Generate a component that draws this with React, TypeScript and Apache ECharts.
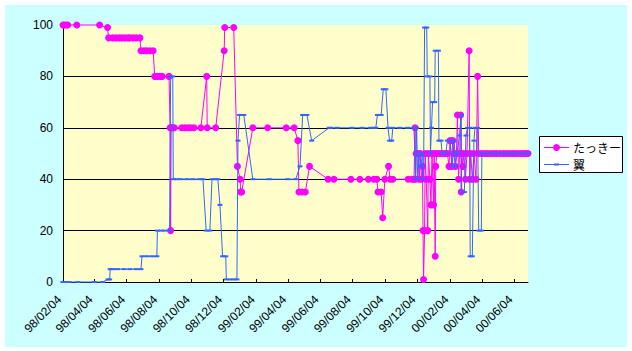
import React, { useEffect, useRef } from "react";
import * as echarts from "echarts";

// たっきー : [date, value]
const takkiPoints: [string, number][] = [
  ["1998-02-04", 100], ["1998-02-06", 100], ["1998-02-10", 100], ["1998-02-13", 100],
  ["1998-03-02", 100], ["1998-04-14", 100], ["1998-04-29", 99], ["1998-05-01", 95],
  ["1998-05-09", 95], ["1998-05-15", 95], ["1998-05-21", 95], ["1998-05-26", 95],
  ["1998-06-01", 95], ["1998-06-07", 95], ["1998-06-10", 95], ["1998-06-16", 95],
  ["1998-06-22", 95], ["1998-06-29", 95], ["1998-07-01", 90], ["1998-07-07", 90],
  ["1998-07-12", 90], ["1998-07-18", 90], ["1998-07-24", 90], ["1998-07-27", 80],
  ["1998-08-01", 80], ["1998-08-06", 80], ["1998-08-10", 80], ["1998-08-23", 80],
  ["1998-08-25", 60], ["1998-08-26", 20], ["1998-08-27", 60], ["1998-08-30", 60],
  ["1998-09-02", 60], ["1998-09-16", 60], ["1998-09-22", 60], ["1998-09-28", 60],
  ["1998-10-03", 60], ["1998-10-09", 60], ["1998-10-22", 60], ["1998-11-02", 80],
  ["1998-11-03", 60], ["1998-11-19", 60], ["1998-12-05", 90], ["1998-12-06", 99],
  ["1998-12-23", 99], ["1998-12-30", 45], ["1999-01-04", 40], ["1999-01-05", 35],
  ["1999-01-07", 35], ["1999-01-28", 60], ["1999-02-25", 60], ["1999-04-01", 60],
  ["1999-04-16", 60], ["1999-04-23", 55], ["1999-04-25", 35], ["1999-05-01", 35],
  ["1999-05-07", 35], ["1999-05-15", 45], ["1999-06-19", 40], ["1999-06-30", 40],
  ["1999-08-01", 40], ["1999-08-18", 40], ["1999-09-03", 40], ["1999-09-13", 40],
  ["1999-09-19", 40], ["1999-09-21", 35], ["1999-09-27", 35], ["1999-09-30", 25],
  ["1999-10-04", 40], ["1999-10-11", 45], ["1999-10-14", 40], ["1999-10-19", 40],
  ["1999-11-17", 40], ["1999-11-24", 40], ["1999-11-28", 40], ["1999-11-30", 60],
  ["1999-12-01", 40], ["1999-12-02", 50], ["1999-12-06", 50], ["1999-12-08", 40],
  ["1999-12-10", 50], ["1999-12-12", 40], ["1999-12-14", 45], ["1999-12-15", 20],
  ["1999-12-16", 1], ["1999-12-18", 20], ["1999-12-19", 50], ["1999-12-21", 40],
  ["1999-12-24", 20], ["1999-12-25", 50], ["1999-12-28", 40], ["1999-12-30", 30],
  ["2000-01-01", 50], ["2000-01-04", 30], ["2000-01-05", 50], ["2000-01-07", 10],
  ["2000-01-08", 45], ["2000-01-10", 50], ["2000-01-15", 50], ["2000-01-20", 50],
  ["2000-01-25", 50], ["2000-01-30", 50], ["2000-02-02", 45], ["2000-02-04", 55],
  ["2000-02-07", 45], ["2000-02-09", 55], ["2000-02-11", 50], ["2000-02-14", 45],
  ["2000-02-16", 50], ["2000-02-18", 65], ["2000-02-20", 40], ["2000-02-22", 50],
  ["2000-02-24", 65], ["2000-02-25", 35], ["2000-02-26", 50], ["2000-02-28", 45],
  ["2000-03-01", 50], ["2000-03-04", 40], ["2000-03-07", 50], ["2000-03-11", 90],
  ["2000-03-12", 40], ["2000-03-14", 50], ["2000-03-17", 40], ["2000-03-20", 50],
  ["2000-03-24", 40], ["2000-03-27", 80], ["2000-03-29", 50], ["2000-04-04", 50],
  ["2000-04-10", 50], ["2000-04-15", 50], ["2000-04-21", 50], ["2000-04-27", 50],
  ["2000-05-02", 50], ["2000-05-08", 50], ["2000-05-14", 50], ["2000-05-19", 50],
  ["2000-05-25", 50], ["2000-05-31", 50], ["2000-06-05", 50], ["2000-06-11", 50],
  ["2000-06-17", 50], ["2000-06-22", 50], ["2000-06-27", 50], ["2000-06-30", 50],
];

// 翼 : [date, value]
const tsubasaPoints: [string, number][] = [
  ["1998-02-04", 0], ["1998-02-08", 0], ["1998-02-15", 0], ["1998-03-04", 0],
  ["1998-04-04", 0], ["1998-04-20", 0], ["1998-04-30", 1], ["1998-05-03", 1],
  ["1998-05-04", 5], ["1998-05-09", 5], ["1998-05-18", 5], ["1998-05-30", 5],
  ["1998-06-10", 5], ["1998-06-22", 5], ["1998-07-01", 5], ["1998-07-03", 10],
  ["1998-07-12", 10], ["1998-07-22", 10], ["1998-07-31", 10], ["1998-08-01", 20],
  ["1998-08-08", 20], ["1998-08-15", 20], ["1998-08-24", 20], ["1998-08-26", 80],
  ["1998-08-30", 80], ["1998-08-31", 40], ["1998-09-07", 40], ["1998-09-14", 40],
  ["1998-09-26", 40], ["1998-10-07", 40], ["1998-10-20", 40], ["1998-10-26", 40],
  ["1998-11-01", 20], ["1998-11-08", 20], ["1998-11-12", 40], ["1998-11-18", 40],
  ["1998-11-23", 40], ["1998-11-27", 30], ["1998-12-02", 10], ["1998-12-08", 10],
  ["1998-12-09", 1], ["1998-12-16", 1], ["1998-12-23", 1], ["1998-12-29", 1],
  ["1998-12-31", 55], ["1999-01-03", 65], ["1999-01-11", 65], ["1999-01-28", 40],
  ["1999-02-28", 40], ["1999-04-04", 40], ["1999-04-19", 40], ["1999-04-27", 45],
  ["1999-05-02", 65], ["1999-05-10", 65], ["1999-05-19", 55], ["1999-06-21", 60],
  ["1999-06-24", 60], ["1999-07-06", 60], ["1999-08-03", 60], ["1999-08-22", 60],
  ["1999-09-07", 60], ["1999-09-14", 60], ["1999-09-17", 60], ["1999-09-20", 65],
  ["1999-09-27", 65], ["1999-10-01", 75], ["1999-10-06", 75], ["1999-10-10", 60],
  ["1999-10-13", 55], ["1999-10-17", 55], ["1999-10-19", 60], ["1999-11-01", 60],
  ["1999-11-16", 60], ["1999-11-28", 60], ["1999-12-01", 40], ["1999-12-03", 60],
  ["1999-12-05", 40], ["1999-12-08", 50], ["1999-12-11", 45], ["1999-12-14", 50],
  ["1999-12-16", 40], ["1999-12-18", 99], ["1999-12-22", 99], ["1999-12-23", 80],
  ["1999-12-28", 80], ["1999-12-29", 50], ["1999-12-31", 60], ["2000-01-02", 70],
  ["2000-01-06", 70], ["2000-01-07", 90], ["2000-01-13", 90], ["2000-01-14", 55],
  ["2000-01-18", 55], ["2000-01-20", 50], ["2000-01-27", 50], ["2000-01-30", 55],
  ["2000-02-04", 55], ["2000-02-08", 45], ["2000-02-12", 55], ["2000-02-14", 45],
  ["2000-02-17", 50], ["2000-02-22", 57], ["2000-02-25", 65], ["2000-02-26", 35],
  ["2000-03-02", 35], ["2000-03-05", 57], ["2000-03-08", 60], ["2000-03-12", 60],
  ["2000-03-13", 10], ["2000-03-17", 10], ["2000-03-20", 55], ["2000-03-22", 60],
  ["2000-03-27", 60], ["2000-03-29", 20], ["2000-04-03", 20], ["2000-04-04", 50],
  ["2000-04-10", 50], ["2000-04-15", 50], ["2000-04-21", 50], ["2000-04-27", 50],
  ["2000-05-02", 50], ["2000-05-08", 50], ["2000-05-14", 50], ["2000-05-19", 50],
  ["2000-05-25", 50], ["2000-05-31", 50], ["2000-06-05", 50], ["2000-06-11", 50],
  ["2000-06-17", 50], ["2000-06-22", 50], ["2000-06-27", 50], ["2000-06-30", 50],
];

const xTickDates = [
  "1998-02-04", "1998-04-04", "1998-06-04", "1998-08-04", "1998-10-04", "1998-12-04",
  "1999-02-04", "1999-04-04", "1999-06-04", "1999-08-04", "1999-10-04", "1999-12-04",
  "2000-02-04", "2000-04-04", "2000-06-04",
];
const xMinDate = "1998-02-04";
const xMaxDate = "2000-06-30";
const seriesNames = ["たっきー", "翼"];

const toTs = (d: string) => Date.parse(d + "T00:00:00Z");
const pad2 = (n: number) => String(n).padStart(2, "0");
const fmtDate = (v: number) => {
  const d = new Date(v);
  return `${pad2(d.getUTCFullYear() % 100)}/${pad2(d.getUTCMonth() + 1)}/${pad2(d.getUTCDate())}`;
};

const MAGENTA = "#FF00FF";
const BLUE = "#3366FF";
const JP = '"Noto Sans CJK JP", sans-serif';
const LAT = '"Liberation Sans", Arial, sans-serif';

export default function App() {
  const ref = useRef<HTMLDivElement>(null);
  useEffect(() => {
    if (!ref.current) return;
    const chart = echarts.init(ref.current, undefined, { renderer: "svg" });
    const tickVals = xTickDates.map(toTs);
    chart.setOption({
      animation: false,
      backgroundColor: "#FFFFFF",
      grid: {
        left: 63, top: 25, width: 465, height: 257,
        show: true, backgroundColor: "#FFFFCC", borderWidth: 0,
      },
      xAxis: {
        type: "value",
        min: toTs(xMinDate),
        max: toTs(xMaxDate),
        axisLine: { show: true, onZero: false, lineStyle: { color: "#000", width: 1 } },
        axisTick: { show: true, inside: true, length: 3, customValues: tickVals, lineStyle: { color: "#000" } },
        splitLine: { show: false },
        axisLabel: {
          customValues: tickVals,
          formatter: (v: number) => fmtDate(v),
          rotate: 45,
          margin: 12,
          padding: [0, 5, 0, 0],
          color: "#000",
          fontSize: 12,
          fontFamily: LAT,
        },
      },
      yAxis: {
        type: "value",
        min: 0, max: 100, interval: 20,
        axisLine: { show: true, lineStyle: { color: "#000", width: 1 } },
        axisTick: { show: false },
        splitLine: { show: true, showMaxLine: false, lineStyle: { color: "#000", width: 1 } },
        axisLabel: { color: "#000", fontSize: 12, fontFamily: LAT, margin: 10 },
      },
      series: [
        {
          type: "line",
          name: seriesNames[0],
          data: takkiPoints.map(([d, v]) => [toTs(d), v]),
          symbol: "circle",
          symbolSize: 7,
          clip: false,
          itemStyle: { color: MAGENTA },
          lineStyle: { color: MAGENTA, width: 1 },
          z: 2,
          silent: true,
        },
        {
          type: "line",
          name: seriesNames[1],
          data: tsubasaPoints.map(([d, v]) => [toTs(d), v]),
          symbol: "rect",
          symbolSize: [5, 2],
          clip: false,
          itemStyle: { color: BLUE },
          lineStyle: { color: BLUE, width: 1 },
          z: 3,
          silent: true,
        },
      ],
      graphic: [
        { type: "rect", z: -10, silent: true, shape: { x: 5, y: 5, width: 622, height: 342 }, style: { fill: "#CCFFFF" } },
        { type: "rect", z: 10, silent: true, shape: { x: 539.5, y: 136.5, width: 83, height: 36 }, style: { fill: "#FFFFFF", stroke: "#000000", lineWidth: 1 } },
        { type: "line", z: 11, silent: true, shape: { x1: 544, y1: 147.5, x2: 569, y2: 147.5 }, style: { stroke: MAGENTA, lineWidth: 1 } },
        { type: "circle", z: 12, silent: true, shape: { cx: 556.5, cy: 147.5, r: 3.5 }, style: { fill: MAGENTA } },
        { type: "text", z: 12, silent: true, x: 573, y: 147, style: { text: seriesNames[0], fill: "#000", fontSize: 12, fontFamily: JP, verticalAlign: "middle" } },
        { type: "line", z: 11, silent: true, shape: { x1: 544, y1: 164.5, x2: 569, y2: 164.5 }, style: { stroke: BLUE, lineWidth: 1 } },
        { type: "rect", z: 12, silent: true, shape: { x: 554, y: 163.5, width: 5, height: 2 }, style: { fill: BLUE } },
        { type: "text", z: 12, silent: true, x: 573, y: 164.5, style: { text: seriesNames[1], fill: "#000", fontSize: 12, fontFamily: JP, verticalAlign: "middle" } },
      ],
    });
    return () => chart.dispose();
  }, []);
  return (
    <div style={{ position: "fixed", left: 0, top: 0, width: 632, height: 351, background: "#fff" }}>
      <div ref={ref} style={{ width: 632, height: 351 }} />
    </div>
  );
}
